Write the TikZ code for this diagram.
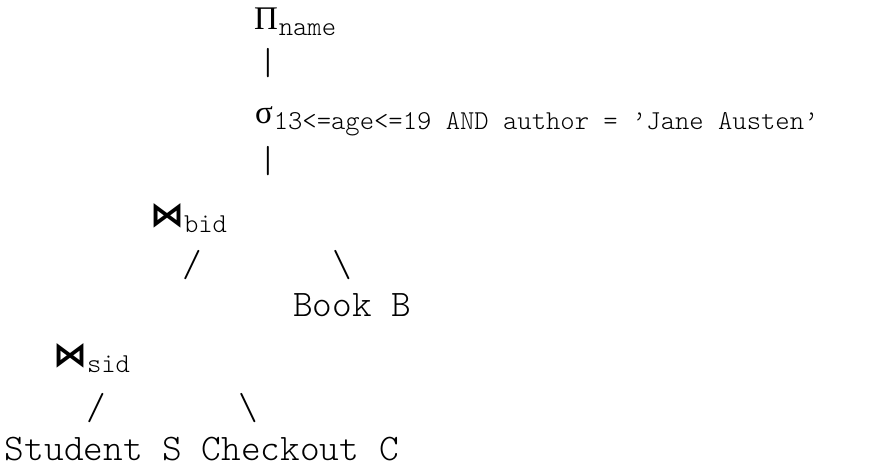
\documentclass[tikz,border=0pt]{standalone}
\usepackage{fontspec}
\setmainfont{Latin Modern Mono Light}
\newfontfamily\greekfont{Liberation Serif}
\newfontfamily\joinfont{DejaVu Sans}
\newcommand{\lowsub}[1]{\raisebox{-6pt}{\fontsize{27.3}{28}\selectfont #1}}
\newcommand{\greek}[1]{{\greekfont\fontsize{33}{34}\selectfont #1}\kern1pt}
\newcommand{\joinsym}{{\joinfont\bfseries\fontsize{34}{36}\selectfont ⋈}}

\begin{document}
\begin{tikzpicture}[x=1pt,y=-1pt]
      \useasboundingbox (0,0) rectangle (870,468);
      \tikzset{txt/.style={anchor=base west,inner sep=0pt,outer sep=0pt,
          font=\fontsize{37.5}{44}\selectfont},
        glyph/.style={txt,anchor=base}}
      % operators
      \node (proj)[txt] at (254,30) {\greek{Π}\lowsub{name}};
      \node (sel)[txt] at (255,124) {\greek{σ}\lowsub{13<=age<=19 AND author = ’Jane Austen’}};
      \node (joinb)[txt] at (150,226) {\joinsym\lowsub{bid}};
      \node (joins)[txt] at (53,366) {\joinsym\lowsub{sid}};
      % relations
      \node (book)[txt] at (293,316) {Book B};
      \node (leaves)[txt] at (5,460) {Student S Checkout C};
      % tree links
      \node (bar1)[glyph] at (268,75) {|};
      \node (bar2)[glyph] at (268,172) {|};
      \node (slb)[glyph] at (192,276) {/};
      \node (bsb)[glyph] at (342,276) {\textbackslash};
      \node (sls)[glyph] at (96,419) {/};
      \node (bss)[glyph] at (248,419) {\textbackslash};
    \end{tikzpicture}
\end{document}
